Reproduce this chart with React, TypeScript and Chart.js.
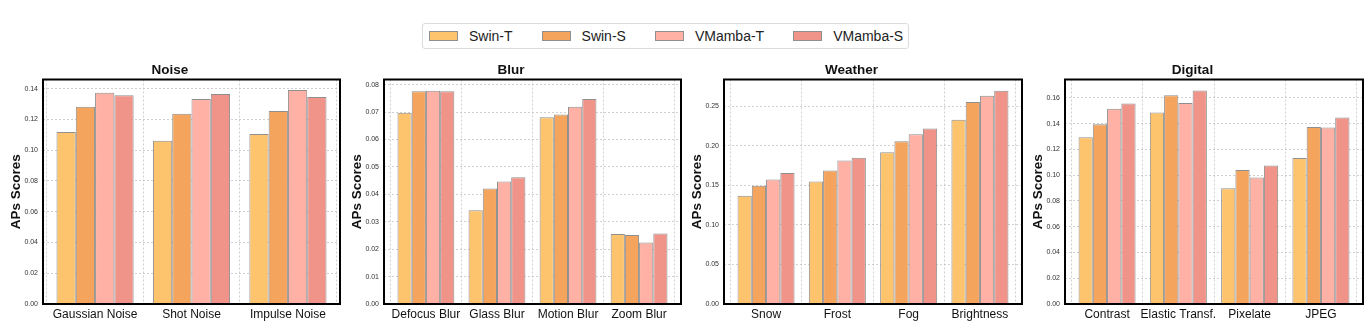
import React, { useEffect, useRef } from "react";
import { Chart, registerables } from "chart.js";

Chart.register(...registerables);

const FONT = "'Liberation Sans', Arial, Helvetica, sans-serif";

const seriesNames = ["Swin-T", "Swin-S", "VMamba-T", "VMamba-S"];
const seriesColors = ["#FEC46D", "#F5A45D", "#FFB1A5", "#F0948A"];
const edgeColor = "#8f8f8f";

// Noise
const noiseLabels = ["Gaussian Noise", "Shot Noise", "Impulse Noise"];
const noiseSwinT = [0.1118, 0.1062, 0.1105];
const noiseSwinS = [0.1283, 0.1238, 0.1255];
const noiseVMambaT = [0.1374, 0.1333, 0.1391];
const noiseVMambaS = [0.1357, 0.1365, 0.1346];
const noiseTicks = [0, 0.02, 0.04, 0.06, 0.08, 0.1, 0.12, 0.14];
const noiseMax = 0.146;

// Blur
const blurLabels = ["Defocus Blur", "Glass Blur", "Motion Blur", "Zoom Blur"];
const blurSwinT = [0.0698, 0.0342, 0.0681, 0.0255];
const blurSwinS = [0.0776, 0.0421, 0.0691, 0.0252];
const blurVMambaT = [0.0778, 0.0447, 0.072, 0.0224];
const blurVMambaS = [0.0776, 0.0462, 0.0748, 0.0257];
const blurTicks = [0, 0.01, 0.02, 0.03, 0.04, 0.05, 0.06, 0.07, 0.08];
const blurMax = 0.0819;

// Weather
const weatherLabels = ["Snow", "Frost", "Fog", "Brightness"];
const weatherSwinT = [0.1367, 0.1548, 0.1917, 0.2328];
const weatherSwinS = [0.1493, 0.1686, 0.2055, 0.255];
const weatherVMambaT = [0.1573, 0.1812, 0.2143, 0.263];
const weatherVMambaS = [0.1653, 0.1846, 0.2215, 0.2693];
const weatherTicks = [0, 0.05, 0.1, 0.15, 0.2, 0.25];
const weatherMax = 0.2835;

// Digital
const digitalLabels = ["Contrast", "Elastic Transf.", "Pixelate", "JPEG"];
const digitalSwinT = [0.1295, 0.1486, 0.0898, 0.1133];
const digitalSwinS = [0.1396, 0.1621, 0.104, 0.1375];
const digitalVMambaT = [0.1515, 0.1561, 0.0983, 0.137];
const digitalVMambaS = [0.1556, 0.1657, 0.1076, 0.1448];
const digitalTicks = [0, 0.02, 0.04, 0.06, 0.08, 0.1, 0.12, 0.14, 0.16];
const digitalMax = 0.1743;

const panels = [
  { title: "Noise", labels: noiseLabels, series: [noiseSwinT, noiseSwinS, noiseVMambaT, noiseVMambaS], ticks: noiseTicks, yMax: noiseMax, plotLeft: 43, plotRight: 340 },
  { title: "Blur", labels: blurLabels, series: [blurSwinT, blurSwinS, blurVMambaT, blurVMambaS], ticks: blurTicks, yMax: blurMax, plotLeft: 384, plotRight: 681 },
  { title: "Weather", labels: weatherLabels, series: [weatherSwinT, weatherSwinS, weatherVMambaT, weatherVMambaS], ticks: weatherTicks, yMax: weatherMax, plotLeft: 724, plotRight: 1022 },
  { title: "Digital", labels: digitalLabels, series: [digitalSwinT, digitalSwinS, digitalVMambaT, digitalVMambaS], ticks: digitalTicks, yMax: digitalMax, plotLeft: 1065, plotRight: 1363 },
];

const Y_AXIS_W = 43;
const CANVAS_TOP = 56;
const CANVAS_H = 329 - 56;
const RIGHT_PAD = 3;

const framePlugin = {
  id: "frame",
  afterDatasetsDraw(chart: any) {
    const { ctx, chartArea: a } = chart;
    ctx.save();
    ctx.strokeStyle = "#000";
    ctx.lineWidth = 2;
    ctx.strokeRect(a.left, a.top, a.right - a.left, a.bottom - a.top);
    ctx.restore();
  },
};

function Panel(props: any) {
  const { title, labels, series, ticks, yMax, plotLeft, plotRight } = props;
  const ref = useRef<HTMLCanvasElement>(null);
  const canvasLeft = plotLeft - Y_AXIS_W;
  const canvasW = plotRight - canvasLeft + RIGHT_PAD;

  useEffect(() => {
    if (!ref.current) return;
    const n = labels.length;
    const margin = 0.05 * (n - 1 + 0.8);
    const grid = { color: "#c4c4c4", lineWidth: 0.8, drawTicks: false };
    const border = { display: false, dash: [2, 2] };
    const chart = new Chart(ref.current, {
      type: "bar",
      data: {
        datasets: series.map((vals: number[], k: number) => ({
          label: seriesNames[k],
          data: vals.map((v, i) => ({ x: i, y: v })),
          backgroundColor: seriesColors[k],
          borderColor: edgeColor,
          borderWidth: 1,
          borderSkipped: "bottom",
          categoryPercentage: 0.8,
          barPercentage: 1,
        })),
      },
      options: {
        animation: false,
        responsive: false,
        devicePixelRatio: 1,
        layout: { padding: { left: 0, right: RIGHT_PAD, top: 0, bottom: 0 } },
        plugins: {
          legend: { display: false },
          tooltip: { enabled: false },
          title: {
            display: true,
            text: title,
            color: "#111",
            font: { family: FONT, size: 13.5, weight: "bold" },
            padding: { top: 6, bottom: 1.3 },
          },
        },
        scales: {
          x: {
            type: "linear",
            min: -0.4 - margin,
            max: n - 1 + 0.4 + margin,
            offset: false,
            afterBuildTicks: (s: any) => {
              s.ticks = labels.map((_: string, i: number) => ({ value: i }));
            },
            afterFit: (s: any) => {
              s.height = 25;
            },
            ticks: {
              autoSkip: false,
              maxRotation: 0,
              minRotation: 0,
              padding: 3,
              color: "#111",
              font: { family: FONT, size: 12 },
              callback: (v: any) => labels[Math.round(Number(v))] ?? "",
            },
            grid,
            border,
          },
          y: {
            type: "linear",
            min: 0,
            max: yMax,
            afterBuildTicks: (s: any) => {
              s.ticks = ticks.map((v: number) => ({ value: v }));
            },
            afterFit: (s: any) => {
              s.width = Y_AXIS_W;
            },
            ticks: {
              autoSkip: false,
              padding: 5,
              color: "#333",
              font: { family: FONT, size: 7 },
              callback: (v: any) => Number(v).toFixed(2),
            },
            grid,
            border,
            title: {
              display: true,
              text: "APs Scores",
              color: "#111",
              font: { family: FONT, size: 13.5, weight: "bold" },
              padding: { top: 8, bottom: 0 },
            },
          },
        },
      },
      plugins: [framePlugin],
    } as any);
    return () => chart.destroy();
  }, []);

  return (
    <canvas
      ref={ref}
      width={canvasW}
      height={CANVAS_H}
      style={{ position: "absolute", left: canvasLeft, top: CANVAS_TOP, width: canvasW, height: CANVAS_H }}
    />
  );
}

function Legend() {
  return (
    <div
      style={{
        position: "absolute",
        left: 422,
        top: 23,
        width: 487,
        height: 26,
        boxSizing: "border-box",
        border: "1px solid #dcdcdc",
        borderRadius: 3,
        display: "flex",
        alignItems: "center",
        paddingLeft: 6,
        fontFamily: FONT,
        fontSize: 14,
        color: "#222",
        background: "#fff",
      }}
    >
      {seriesNames.map((name, k) => (
        <div key={name} style={{ display: "flex", alignItems: "center", marginRight: k < 3 ? 29 : 0 }}>
          <div
            style={{
              width: 29,
              height: 10,
              boxSizing: "border-box",
              background: seriesColors[k],
              border: `1px solid ${edgeColor}`,
              marginRight: 11,
            }}
          />
          <span style={{ lineHeight: "16px", whiteSpace: "nowrap" }}>{name}</span>
        </div>
      ))}
    </div>
  );
}

export default function App() {
  return (
    <div style={{ position: "fixed", left: 0, top: 0, width: 1370, height: 329, background: "#fff", overflow: "hidden" }}>
      <Legend />
      {panels.map((p) => (
        <Panel key={p.title} {...p} />
      ))}
    </div>
  );
}
